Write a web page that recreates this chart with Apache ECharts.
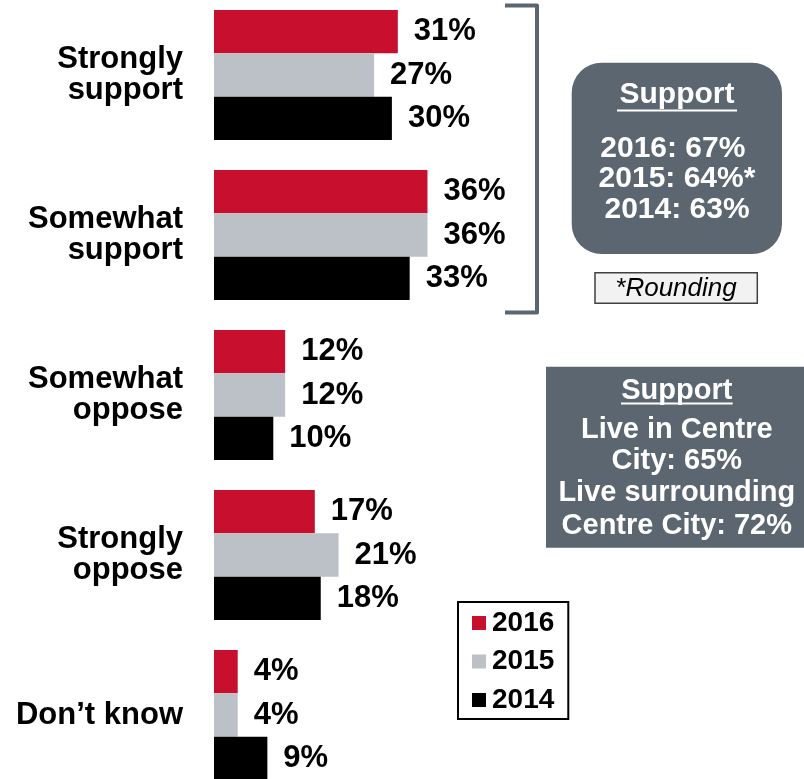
<!DOCTYPE html>
<html>
<head>
<meta charset="utf-8">
<script src="https://cdn.jsdelivr.net/npm/echarts@6/dist/echarts.min.js"></script>
<style>
html,body{margin:0;padding:0;background:#fff;}
#chart{width:804px;height:779px;}
</style>
</head>
<body>
<div id="chart"></div>
<script>
const categories = ['Strongly\nsupport', 'Somewhat\nsupport', 'Somewhat\noppose', 'Strongly\noppose', 'Don\u2019t know'];
const seriesNames = ['2016', '2015', '2014'];
const values2016 = [31, 36, 12, 17, 4];
const values2015 = [27, 36, 12, 21, 4];
const values2014 = [30, 33, 10, 18, 9];
const seriesColors = ['#C8102E', '#BBC1C6', '#000000'];

const supportLines = ['2016: 67% ', '2015: 64%*', '2014: 63%'];
const locationLines = ['Live in Centre', 'City: 65%', 'Live surrounding', 'Centre City: 72%'];

const FONT = '"Liberation Sans", Arial, sans-serif';
const BOX = '#5B6670';

const chart = echarts.init(document.getElementById('chart'), null, {renderer: 'canvas'});

const seriesData = [values2016, values2015, values2014];
const series = seriesNames.map((name, i) => ({
  name: name,
  type: 'bar',
  data: seriesData[i],
  barWidth: 43.3,
  barGap: '0%',
  itemStyle: {color: seriesColors[i]},
  label: {
    show: true,
    position: 'right',
    distance: 16,
    formatter: '{c}%',
    fontFamily: FONT,
    fontSize: 31,
    fontWeight: 'bold',
    color: '#000'
  }
}));

function txt(x, y, text, size, extra) {
  return Object.assign({
    type: 'text',
    x: x, y: y,
    style: {
      text: text,
      fill: '#fff',
      font: 'bold ' + size + 'px ' + FONT,
      align: 'center',
      verticalAlign: 'middle'
    }
  }, extra || {});
}

const graphics = [
  // bracket
  {type: 'polyline', shape: {points: [[505, 5.5], [537, 5.5], [537, 312.5], [505, 312.5]]},
   style: {stroke: BOX, lineWidth: 4, fill: null, lineJoin: 'round'}},
  // support box
  {type: 'rect', shape: {x: 571.7, y: 62.7, width: 210.3, height: 191.3, r: 30}, style: {fill: BOX}},
  txt(677, 95, 'Support', 30),
  {type: 'line', shape: {x1: 617, y1: 110.5, x2: 737, y2: 110.5}, style: {stroke: '#fff', lineWidth: 2}},
  txt(677, 148.5, supportLines[0], 30),
  txt(677, 179, supportLines[1], 30),
  txt(677, 209.7, supportLines[2], 30),
  // rounding box
  {type: 'rect', shape: {x: 595, y: 272.7, width: 162.3, height: 30.6}, style: {fill: '#F2F2F2', stroke: '#404040', lineWidth: 1.5}},
  {type: 'text', x: 676, y: 288.7, style: {text: '*Rounding', fill: '#000', font: 'italic 26px ' + FONT, align: 'center', verticalAlign: 'middle'}},
  // location box
  {type: 'rect', shape: {x: 546, y: 366.7, width: 258, height: 181}, style: {fill: BOX}},
  txt(676.8, 391, 'Support', 29),
  {type: 'line', shape: {x1: 621, y1: 403.5, x2: 732.7, y2: 403.5}, style: {stroke: '#fff', lineWidth: 2}},
  txt(676.8, 429.5, locationLines[0], 29),
  txt(676.8, 461.3, locationLines[1], 29),
  txt(676.8, 492.5, locationLines[2], 29),
  txt(676.8, 525.8, locationLines[3], 29)
];

chart.setOption({
  animation: false,
  backgroundColor: '#fff',
  grid: {left: 214, width: 593, top: -5, height: 800, containLabel: false, outerBoundsMode: 'none'},
  xAxis: {type: 'value', min: 0, max: 100, show: false},
  yAxis: {
    type: 'category',
    data: categories,
    inverse: true,
    axisLine: {show: false},
    axisTick: {show: false},
    splitLine: {show: false},
    axisLabel: {
      margin: 31,
      fontFamily: FONT,
      fontSize: 31,
      fontWeight: 'bold',
      lineHeight: 31.6,
      color: '#000',
      align: 'right'
    }
  },
  legend: {
    data: seriesNames,
    orient: 'vertical',
    left: 458,
    top: 602,
    padding: [7, 14, 5, 14],
    itemGap: 10.5,
    itemWidth: 14,
    itemHeight: 14,
    icon: 'rect',
    borderColor: '#000',
    borderWidth: 2,
    backgroundColor: '#fff',
    textStyle: {fontFamily: FONT, fontSize: 28, fontWeight: 'bold', color: '#000', lineHeight: 28, padding: [0, 0, 0, 1]}
  },
  graphic: graphics,
  series: series
});
</script>
</body>
</html>
